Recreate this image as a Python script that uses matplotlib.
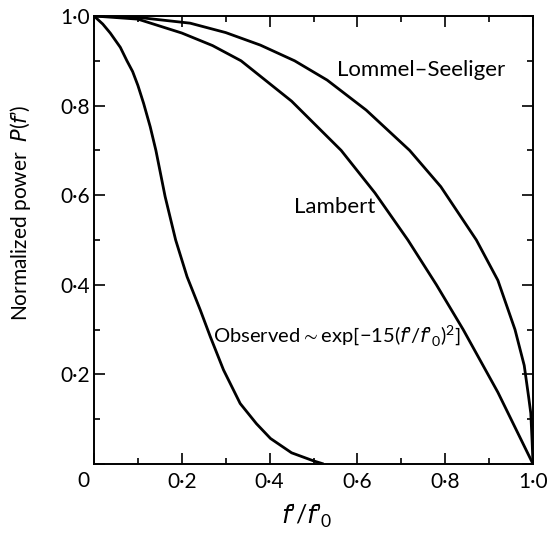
import matplotlib
matplotlib.use("Agg")
import matplotlib.pyplot as plt
import numpy as np

plt.rcParams["font.family"] = ["Lato", "DejaVu Sans"]
plt.rcParams["mathtext.fontset"] = "custom"
plt.rcParams["mathtext.rm"] = "Lato"
plt.rcParams["mathtext.it"] = "DejaVu Sans:italic"
plt.rcParams["mathtext.fallback"] = "stixsans"

# values
obs_f = [0, 0.02, 0.037, 0.06, 0.075, 0.088, 0.1, 0.113, 0.128, 0.141, 0.162,
         0.186, 0.212, 0.242, 0.265, 0.295, 0.333, 0.37, 0.402, 0.45, 0.5, 0.523]
obs_p = [1, 0.982, 0.962, 0.93, 0.9, 0.876, 0.845, 0.805, 0.753, 0.7, 0.597,
         0.5, 0.418, 0.344, 0.284, 0.21, 0.135, 0.09, 0.057, 0.025, 0.007, 0]

lambert_f = [0, 0.1, 0.2, 0.27, 0.335, 0.45, 0.563, 0.64, 0.715, 0.78, 0.841, 0.92, 1.0]
lambert_p = [1, 0.993, 0.962, 0.934, 0.9, 0.81, 0.7, 0.605, 0.5, 0.4, 0.3, 0.16, 0]

lommel_f = [0, 0.1, 0.219, 0.3, 0.379, 0.457, 0.531, 0.62, 0.719, 0.79, 0.871, 0.92,
            0.959, 0.98, 0.99, 0.995, 0.998, 1.0]
lommel_p = [1, 0.997, 0.984, 0.963, 0.935, 0.9, 0.857, 0.79, 0.7, 0.619, 0.5, 0.41,
            0.3, 0.22, 0.15, 0.113, 0.05, 0]

ticks = [0, 0.2, 0.4, 0.6, 0.8, 1.0]
xtick_labels = ["", "0·2", "0·4", "0·6", "0·8", "1·0"]
ytick_labels = ["", "0·2", "0·4", "0·6", "0·8", "1·0"]

fig = plt.figure(figsize=(5.52, 5.35), dpi=100)
ax = fig.add_axes([94 / 552, 71 / 535, 439 / 552, 448 / 535])

lw = 2.0
ax.plot(obs_f, obs_p, color="black", lw=lw, solid_capstyle="butt")
ax.plot(lambert_f, lambert_p, color="black", lw=lw, solid_capstyle="butt")
ax.plot(lommel_f, lommel_p, color="black", lw=lw, solid_capstyle="butt")

ax.set_xlim(0, 1.0)
ax.set_ylim(0, 1.0)
ax.set_xticks(ticks)
ax.set_xticklabels(xtick_labels)
ax.set_yticks(ticks)
ax.set_yticklabels(ytick_labels)
ax.set_xticks(np.arange(0.1, 1.0, 0.2), minor=True)
ax.set_yticks(np.arange(0.1, 1.0, 0.2), minor=True)
ax.tick_params(which="both", direction="in", top=True, right=True, width=1.2)
ax.tick_params(which="major", length=8, labelsize=15)
ax.tick_params(which="minor", length=4.5)
ax.tick_params(axis="x", pad=6)
ax.tick_params(axis="y", pad=3)
for s in ax.spines.values():
    s.set_linewidth(1.4)

# corner zero shared by both axes
ax.text(-0.025, -0.015, "0", fontsize=15, ha="center", va="top",
        transform=ax.transAxes)

ax.set_ylabel("Normalized power  $\\mathit{P(f\u2019)}$", fontsize=15)
ax.yaxis.set_label_coords(-0.14, 0.56)
ax.set_xlabel("$\\mathit{f\u2019/f\u2019_0}$", fontsize=18)
ax.xaxis.set_label_coords(0.485, -0.085)

ax.text(0.553, 0.88, "Lommel\u2013Seeliger", fontsize=16, va="center")
ax.text(0.455, 0.573, "Lambert", fontsize=16, va="center")
ax.text(0.27, 0.287, "Observed$\\sim$exp$\\mathit{[-15(f\u2019/f\u2019_0)^2]}$",
        fontsize=14.5, va="center")

fig.savefig("out.png", dpi=100)
